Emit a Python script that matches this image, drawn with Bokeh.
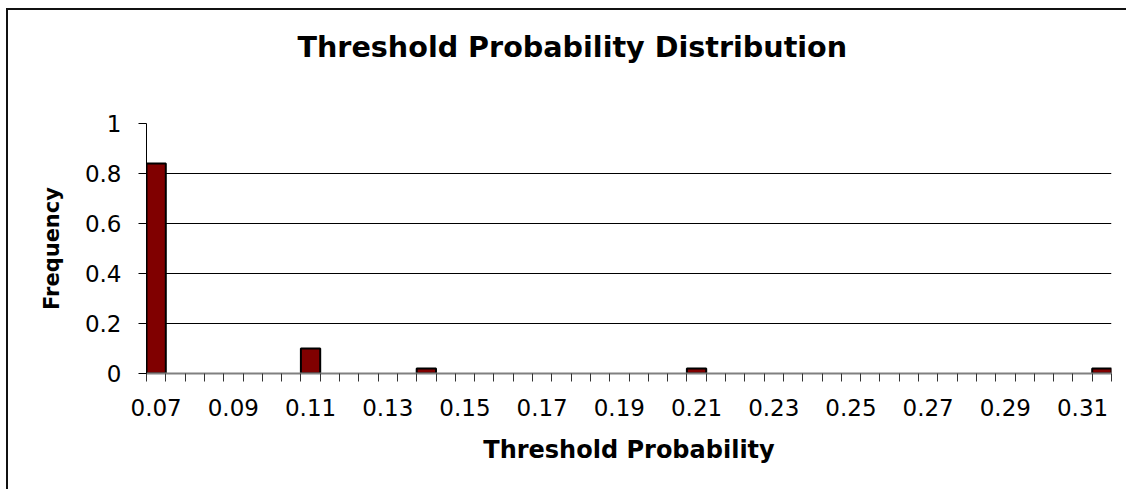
from bokeh.plotting import figure
from bokeh.models import FixedTicker, ColumnDataSource, NumeralTickFormatter, PrintfTickFormatter, Range1d
from bokeh.embed import file_html
from bokeh.resources import INLINE

# ---- data ----
categories = [0.070, 0.075, 0.080, 0.085, 0.090, 0.095, 0.100, 0.105, 0.110, 0.115,
              0.120, 0.125, 0.130, 0.135, 0.140, 0.145, 0.150, 0.155, 0.160, 0.165,
              0.170, 0.175, 0.180, 0.185, 0.190, 0.195, 0.200, 0.205, 0.210, 0.215,
              0.220, 0.225, 0.230, 0.235, 0.240, 0.245, 0.250, 0.255, 0.260, 0.265,
              0.270, 0.275, 0.280, 0.285, 0.290, 0.295, 0.300, 0.305, 0.310, 0.315]
bar_thresholds = [0.070, 0.110, 0.140, 0.210, 0.315]
bar_frequency = [0.84, 0.10, 0.02, 0.02, 0.02]
x_tick_labels = [0.07, 0.09, 0.11, 0.13, 0.15, 0.17, 0.19, 0.21, 0.23, 0.25, 0.27, 0.29, 0.31]
y_ticks = [0, 0.2, 0.4, 0.6, 0.8, 1]

title_text = "Threshold Probability Distribution"
x_label = "Threshold Probability"
y_label = "Frequency"

step = categories[1] - categories[0]
half = step / 2.0
boundaries = [c - half for c in categories] + [categories[-1] + half]

p = figure(width=1120, height=481, output_backend="svg", toolbar_location=None,
           x_range=Range1d(categories[0] - half, categories[-1] + half),
           y_range=Range1d(0, 1),
           min_border_left=138, min_border_right=17, min_border_top=113, min_border_bottom=118)
p.styles = {"margin-left": "6px", "margin-top": "8px",
            "border-left": "2px solid #111111", "border-top": "2px solid #111111"}
p.outline_line_color = None
p.background_fill_color = "white"
p.border_fill_color = "white"

p.title.text = title_text
p.title.align = "left"
p.title.offset = 151
p.title.text_font = "DejaVu Sans"
p.title.text_font_style = "bold"
p.title.text_font_size = "28.6px"
p.title.text_color = "black"
p.title.padding = dict(top=0, right=0, bottom=55, left=0)

src = ColumnDataSource(dict(x=bar_thresholds, top=bar_frequency))
p.vbar(x="x", top="top", bottom=0, width=step, source=src,
       fill_color="#800000", line_color="black", line_width=2)

# x axis
p.xaxis.ticker = FixedTicker(ticks=x_tick_labels, minor_ticks=boundaries)
p.xaxis.formatter = PrintfTickFormatter(format="%.2f")
p.xaxis.major_tick_out = 0
p.xaxis.major_tick_in = 0
p.xaxis.minor_tick_out = 8
p.xaxis.minor_tick_in = 0
p.xaxis.minor_tick_line_color = "#333333"
p.xaxis.axis_line_color = "#808080"
p.xaxis.axis_line_width = 2
p.xaxis.major_label_text_font = "DejaVu Sans"
p.xaxis.major_label_text_font_size = "23px"
p.xaxis.major_label_text_color = "black"
p.xaxis.major_label_standoff = 17
p.xaxis.axis_label = x_label
p.xaxis.axis_label_text_font = "DejaVu Sans"
p.xaxis.axis_label_text_font_style = "bold"
p.xaxis.axis_label_text_font_size = "24px"
p.xaxis.axis_label_text_color = "black"
p.xaxis.axis_label_standoff = 17

# y axis
p.yaxis.ticker = FixedTicker(ticks=y_ticks, minor_ticks=[])
p.yaxis.formatter = NumeralTickFormatter(format="0.[0]")
p.yaxis.major_tick_out = 8
p.yaxis.major_tick_in = 0
p.yaxis.major_tick_line_color = "black"
p.yaxis.axis_line_color = "black"
p.yaxis.axis_line_width = 1
p.yaxis.major_label_text_font = "DejaVu Sans"
p.yaxis.major_label_text_font_size = "23px"
p.yaxis.major_label_text_color = "black"
p.yaxis.major_label_standoff = 17
p.yaxis.axis_label = y_label
p.yaxis.axis_label_text_font = "DejaVu Sans"
p.yaxis.axis_label_text_font_style = "bold"
p.yaxis.axis_label_text_font_size = "21px"
p.yaxis.axis_label_text_color = "black"
p.yaxis.axis_label_standoff = 18

p.xgrid.visible = False
p.ygrid.ticker = FixedTicker(ticks=y_ticks)
p.ygrid.grid_line_color = "black"
p.ygrid.grid_line_width = 1

open("out.html", "w").write(file_html(p, INLINE))
